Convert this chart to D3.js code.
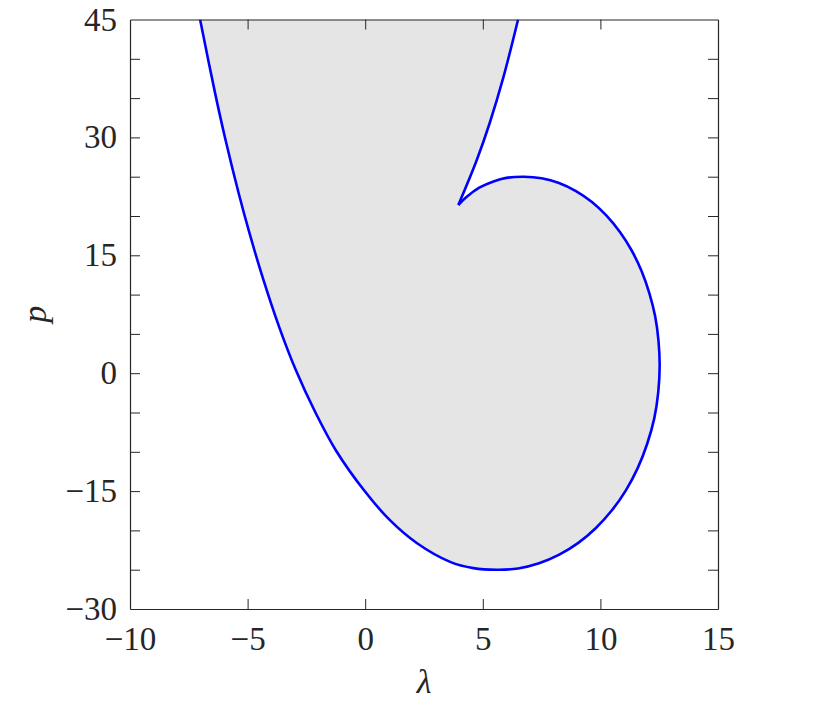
<!DOCTYPE html>
<html>
<head>
<meta charset="utf-8">
<script src="https://cdn.jsdelivr.net/npm/d3@7"></script>
<style>
  html, body { margin: 0; padding: 0; background: #fff; }
  svg { display: block; }
  text { font-family: "Liberation Serif", "Times New Roman", Tinos, "DejaVu Serif", serif; }
</style>
</head>
<body>
<svg id="chart" width="817" height="707"></svg>
<script>
// Boundary of the region (λ, p), traced from the outer-left branch, around the bottom loop,
// into the cusp and up the inner branch.
const lambdaVals = [-7.02, -6.38, -5.94, -5.38, -4.88, -4.33, -3.66, -2.95, -2.10, -1.25, -0.05, 1.05, 2.19, 3.61,
  4.6, 5.6, 6.5, 7.39, 8.25, 9.06, 9.81, 10.49, 11.09, 11.59, 11.99, 12.29, 12.46, 12.52,
  12.47, 12.33, 12.08, 11.75, 11.33, 10.83, 10.26, 9.64, 8.96, 8.24, 7.5, 6.75,
  6.0, 5.45, 4.85, 4.32, 3.96,
  4.74, 5.29, 5.88, 6.50];
const pVals = [45, 35.6, 29.7, 22.9, 17.4, 11.9, 5.9, 0.4, -5.1, -9.8, -14.9, -18.7, -21.6, -24.0,
  -24.8, -25.0, -24.85, -24.19, -23.09, -21.59, -19.69, -17.44, -14.87, -12.05, -8.98, -5.75, -2.4, 1.0,
  4.12, 7.2, 10.18, 12.99, 15.61, 17.96, 20.04, 21.78, 23.17, 24.2, 24.8, 25.0,
  24.85, 24.4, 23.6, 22.45, 21.4,
  27.1, 31.8, 37.7, 45];
const cuspIndex = 44;

const xDomain = [-10, 15];
const yDomain = [-30, 45];
const xTicks = [-10, -5, 0, 5, 10, 15];
const yTicks = [-30, -15, 0, 15, 30, 45];
const yMinorTicks = [-25, -20, -10, -5, 5, 10, 20, 25, 35, 40];

(function () {
const svg = d3.select("#chart");
const L = 130, R = 718, T = 19.5, B = 609;
const x = d3.scaleLinear().domain(xDomain).range([L, R]);
const y = d3.scaleLinear().domain(yDomain).range([B, T]);

const pts = lambdaVals.map((l, i) => [l, pVals[i]]);
const branch1 = pts.slice(0, cuspIndex + 1);
const branch2 = pts.slice(cuspIndex);

const line = d3.line().x(d => x(d[0])).y(d => y(d[1])).curve(d3.curveCatmullRom.alpha(0.5));

const fillPath = line(branch1) + line(branch2).replace(/^M/, "L") + `L${x(pts[0][0])},${y(45)}Z`;

svg.append("rect").attr("x", L).attr("y", T).attr("width", R - L).attr("height", B - T).attr("fill", "#fff");

const clip = svg.append("clipPath").attr("id", "clip");
clip.append("rect").attr("x", L).attr("y", T).attr("width", R - L).attr("height", B - T);

const g = svg.append("g").attr("clip-path", "url(#clip)");
g.append("path").attr("d", fillPath).attr("fill", "#e5e5e5").attr("stroke", "none");
g.append("path").attr("d", line(branch1)).attr("fill", "none").attr("stroke", "#0000ff").attr("stroke-width", 2.6);
g.append("path").attr("d", line(branch2)).attr("fill", "none").attr("stroke", "#0000ff").attr("stroke-width", 2.6);

const axisColor = "#262626";
const tickLen = 10;
const fmt = v => (v < 0 ? "\u2212" + Math.abs(v) : String(v));

const axB = svg.append("g").attr("transform", `translate(0,${B})`)
  .call(d3.axisBottom(x).tickValues(xTicks).tickSizeInner(-tickLen).tickSizeOuter(0).tickPadding(18).tickFormat(fmt));
const axT = svg.append("g").attr("transform", `translate(0,${T})`)
  .call(d3.axisTop(x).tickValues(xTicks).tickSizeInner(-tickLen).tickSizeOuter(0).tickFormat(""));
const axL = svg.append("g").attr("transform", `translate(${L},0)`)
  .call(d3.axisLeft(y).tickValues(yTicks.concat(yMinorTicks)).tickSizeInner(-tickLen).tickSizeOuter(0).tickPadding(13)
    .tickFormat(v => yTicks.includes(v) ? fmt(v) : ""));
const axR = svg.append("g").attr("transform", `translate(${R},0)`)
  .call(d3.axisRight(y).tickValues(yTicks.concat(yMinorTicks)).tickSizeInner(-tickLen).tickSizeOuter(0).tickFormat(""));

[axB, axT, axL, axR].forEach(a => {
  a.attr("font-family", null);
  a.selectAll(".domain").attr("stroke", axisColor).attr("stroke-width", 1.2);
  a.selectAll(".tick line").attr("stroke", axisColor).attr("stroke-width", 1);
  a.selectAll(".tick text").attr("fill", "#262626").style("font-size", "33px");
});
axB.selectAll(".tick").filter(d => d === -10 || d === 15).select("line").remove();
axT.selectAll(".tick").filter(d => d === -10 || d === 15).select("line").remove();
axL.selectAll(".tick").filter(d => d === -30 || d === 45).select("line").remove();
axR.selectAll(".tick").filter(d => d === -30 || d === 45).select("line").remove();

svg.append("text").attr("x", (L + R) / 2).attr("y", 693).attr("text-anchor", "middle")
  .style("font-size", "34px").style("font-style", "italic").attr("fill", "#262626").text("λ");
svg.append("text").attr("transform", `translate(46,${(T + B) / 2}) rotate(-90)`).attr("text-anchor", "middle")
  .style("font-size", "34px").style("font-style", "italic").attr("fill", "#262626").text("p");
})();
</script>
</body>
</html>
